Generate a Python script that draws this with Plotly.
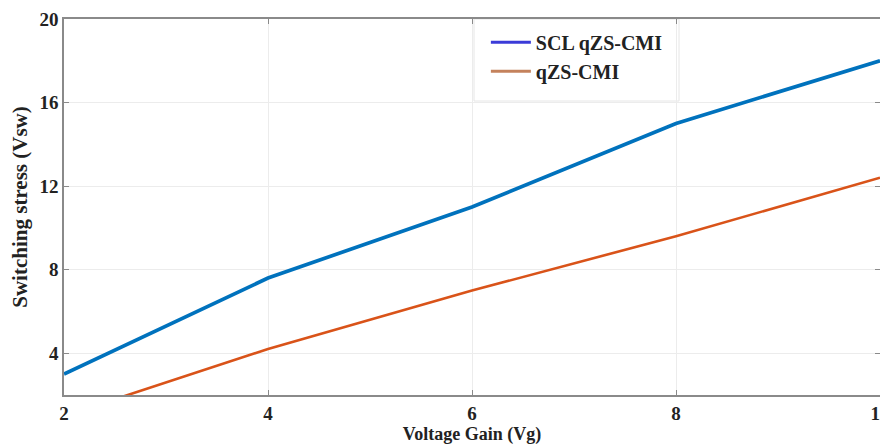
import plotly.graph_objects as go

voltage_gain = [2, 4, 6, 8, 10]
scl_qzs_cmi = [3.0, 7.6, 11.0, 15.0, 18.0]
qzs_cmi = [1.0, 4.2, 7.0, 9.6, 12.4]
series_names = ["SCL qZS-CMI", "qZS-CMI"]
x_ticks = [2, 4, 6, 8, 10]
y_ticks = [4, 8, 12, 16, 20]

FONT = "Liberation Serif, Times New Roman, serif"

fig = go.Figure()
fig.add_trace(go.Scatter(x=voltage_gain, y=scl_qzs_cmi, mode="lines",
                         line=dict(color="#0072BD", width=3.7),
                         showlegend=False, name=series_names[0]))
fig.add_trace(go.Scatter(x=voltage_gain, y=qzs_cmi, mode="lines",
                         line=dict(color="#D95319", width=2.6),
                         showlegend=False, name=series_names[1]))
# legend entries (legend samples drawn with the exported colours)
fig.add_trace(go.Scatter(x=[None], y=[None], mode="lines",
                         line=dict(color="#3b3bd8", width=3), name=series_names[0]))
fig.add_trace(go.Scatter(x=[None], y=[None], mode="lines",
                         line=dict(color="#c4825c", width=3), name=series_names[1]))

axis_common = dict(
    showline=True, linecolor="#8a8a8a", linewidth=1.5, mirror="ticks",
    ticks="inside", ticklen=5, tickcolor="#8a8a8a",
    showgrid=True, gridcolor="#ececec", gridwidth=1,
    zeroline=False, automargin=False, ticklabeloverflow="allow",
    tickfont=dict(family=FONT, size=19, color="#222222", weight="bold"),
)

PLOT_H = 440 - 11 - 53

fig.update_layout(
    width=880, height=440,
    margin=dict(l=56, r=8, t=11, b=53),
    paper_bgcolor="white", plot_bgcolor="white",
    xaxis=dict(range=[2, 10], tickvals=x_ticks, **axis_common,
               title=dict(text="Voltage Gain (Vg)", standoff=0,
                          font=dict(family=FONT, size=18, color="#222222", weight="bold"))),
    yaxis=dict(range=[2, 20], tickvals=y_ticks, **axis_common,
               title=dict(text="Switching stress (Vsw)", standoff=12,
                          font=dict(family=FONT, size=21, color="#222222", weight="bold"))),
    legend=dict(x=0.517, y=0.99, xanchor="left", yanchor="top",
                bgcolor="rgba(0,0,0,0)", borderwidth=0,
                font=dict(family=FONT, size=20, color="#222222", weight="bold"),
                tracegroupgap=0, itemwidth=40),
    shapes=[dict(type="rect", xref="paper", yref="paper",
                 x0=(474 - 64) / 816, x1=(679 - 64) / 816,
                 y0=1.0 - 82 / PLOT_H, y1=1.0,
                 line=dict(color="#e6e6e6", width=1), fillcolor="rgba(0,0,0,0)",
                 layer="below")],
)

fig.write_html("out.html")
